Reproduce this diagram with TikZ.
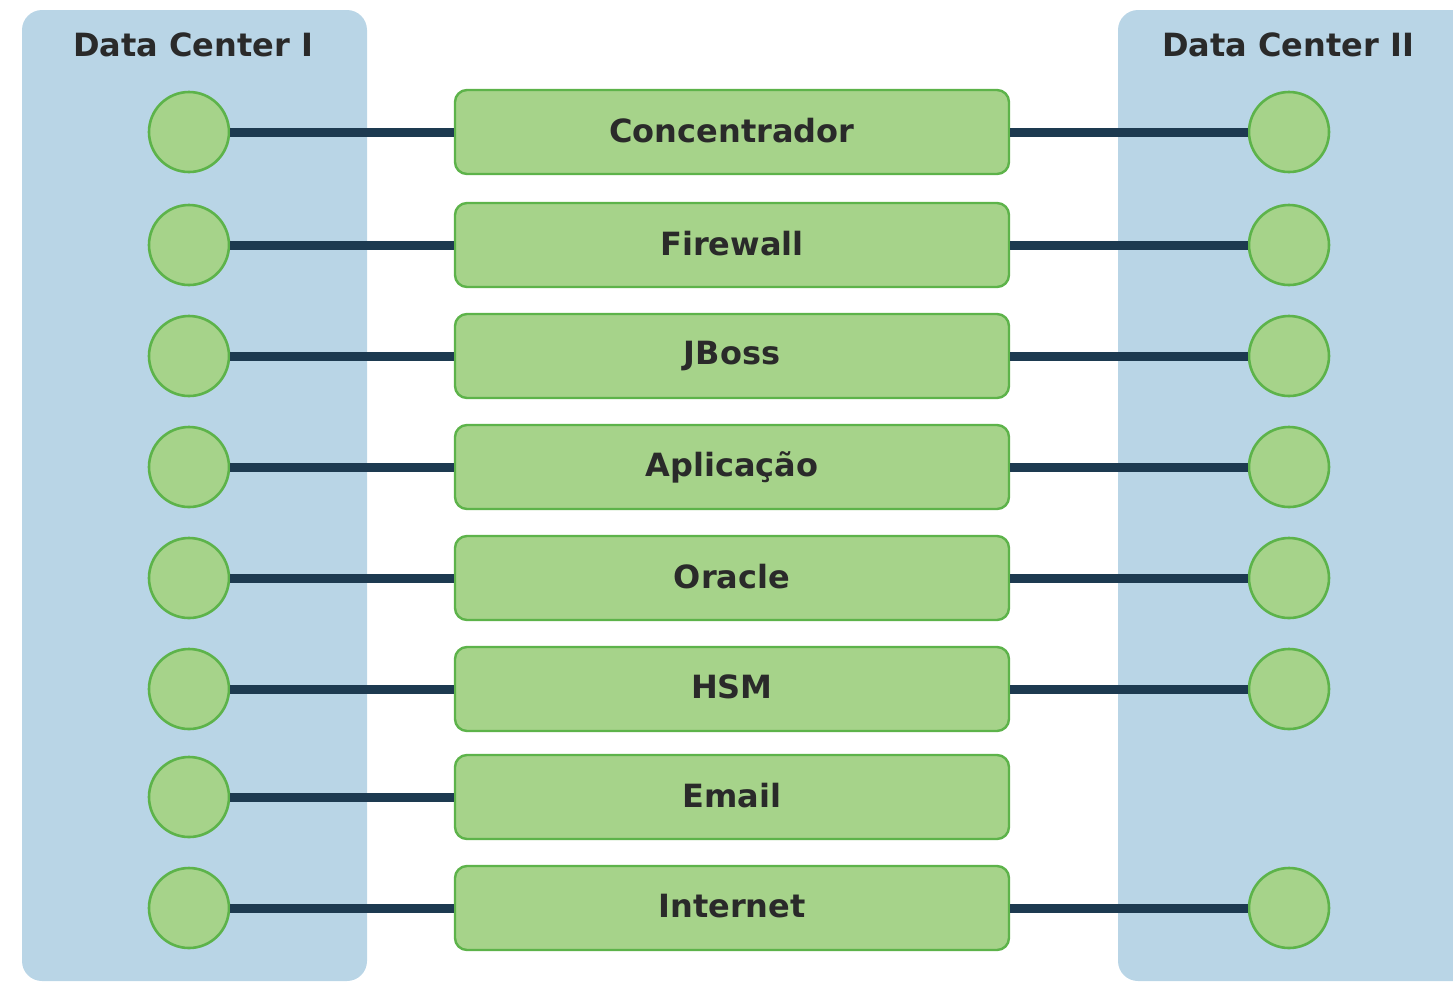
\documentclass[tikz,border=0pt]{standalone}
\usepackage{fontspec}
\setmainfont{DejaVu Sans}
\definecolor{panelblue}{HTML}{B9D5E6}
\definecolor{nodegreen}{HTML}{A6D38A}
\definecolor{nodeborder}{HTML}{5DB34A}
\definecolor{linkcol}{HTML}{1D3A50}
\definecolor{txtcol}{HTML}{2A2A2A}
\begin{document}
\begin{tikzpicture}[x=0.5pt,y=-0.5pt,
  panel/.style={fill=panelblue,draw=none,rounded corners=10pt},
  dcnode/.style={circle,fill=nodegreen,draw=nodeborder,line width=1.3pt,minimum size=40pt,inner sep=0pt},
  svcbox/.style={rectangle,rounded corners=6pt,fill=nodegreen,draw=nodeborder,line width=1.2pt,minimum width=277pt,minimum height=42pt,inner sep=0pt,font=\bfseries\fontsize{16}{18}\selectfont,text=txtcol},
  title/.style={font=\bfseries\fontsize{16}{18}\selectfont,text=txtcol},
  link/.style={draw=linkcol,line width=4.5pt}]
\useasboundingbox (0,0) rectangle (1453,982);
\fill[panel] (22,10) rectangle (367,981);
\fill[panel] (1118,10) rectangle (1475,981);
\node[title] (t1) at (193,45) {Data Center I};
\node[title] (t2) at (1288,45) {Data Center II};
\foreach \i/\y/\name in {1/132/Concentrador,2/245/Firewall,3/356/JBoss,4/467/Aplicação,5/578/Oracle,6/689/HSM,7/797/Email,8/908/Internet}{
  \node[svcbox] (b\i) at (732,\y) {\raisebox{2pt}{\name}};
  \node[dcnode] (l\i) at (189,\y) {};
  \draw[link] (l\i) -- (b\i);
}
\foreach \i/\y in {1/132,2/245,3/356,4/467,5/578,6/689,8/908}{
  \node[dcnode] (r\i) at (1289,\y) {};
  \draw[link] (b\i) -- (r\i);
}
\end{tikzpicture}
\end{document}
